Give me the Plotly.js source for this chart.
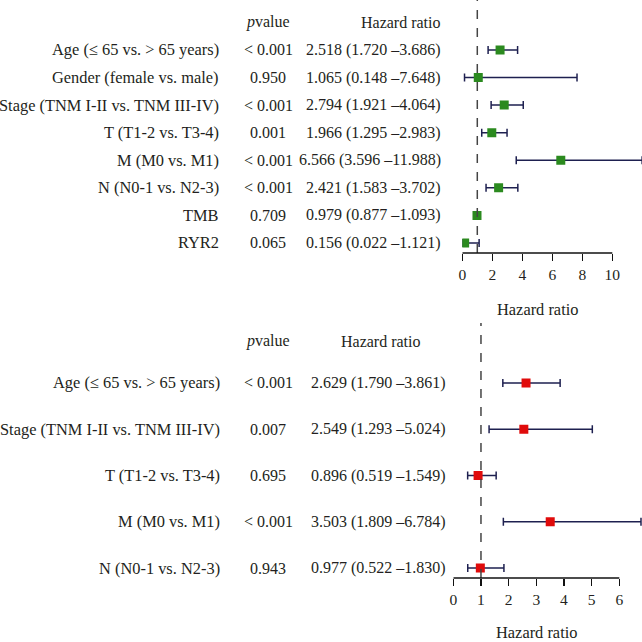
<!DOCTYPE html>
<html>
<head>
<meta charset="utf-8">
<script src="https://cdn.plot.ly/plotly-3.0.1.min.js"></script>
<style>html,body{margin:0;padding:0;background:#fff;}#chart{width:642px;height:642px;}</style>
</head>
<body>
<div id="chart"></div>
<script>
// ---- Top panel (univariate) ----
const topLabels = ["Age (≤ 65 vs. > 65 years)", "Gender (female vs. male)", "Stage (TNM I-II vs. TNM III-IV)", "T (T1-2 vs. T3-4)", "M (M0 vs. M1)", "N (N0-1 vs. N2-3)", "TMB", "RYR2"];
const topP = ["< 0.001", "0.950", "< 0.001", "0.001", "< 0.001", "< 0.001", "0.709", "0.065"];
const topHR = [2.518, 1.065, 2.794, 1.966, 6.566, 2.421, 0.979, 0.156];
const topLow = [1.720, 0.148, 1.921, 1.295, 3.596, 1.583, 0.877, 0.022];
const topHigh = [3.686, 7.648, 4.064, 2.983, 11.988, 3.702, 1.093, 1.121];
const topTicks = [0, 2, 4, 6, 8, 10];

// ---- Bottom panel (multivariate) ----
const botLabels = ["Age (≤ 65 vs. > 65 years)", "Stage (TNM I-II vs. TNM III-IV)", "T (T1-2 vs. T3-4)", "M (M0 vs. M1)", "N (N0-1 vs. N2-3)"];
const botP = ["< 0.001", "0.007", "0.695", "< 0.001", "0.943"];
const botHR = [2.629, 2.549, 0.896, 3.503, 0.977];
const botLow = [1.790, 1.293, 0.519, 1.809, 0.522];
const botHigh = [3.861, 5.024, 1.549, 6.784, 1.830];
const botTicks = [0, 1, 2, 3, 4, 5, 6];

const refValue = 1;

const FONT = "Liberation Serif, Times New Roman, serif";
const TXT = "#231f20";
const NAVY = "#1e2050";
const fmt = v => v.toFixed(3);
const hrText = (h, l, u) => `${fmt(h)} (${fmt(l)} –${fmt(u)})`;

function panelTrace(hr, lo, hi, color, xa, ya) {
  return {
    type: "scatter", mode: "markers", xaxis: xa, yaxis: ya,
    x: hr, y: hr.map((_, i) => i),
    marker: {symbol: "square", size: 9, color: color},
    error_x: {type: "data", symmetric: false,
      array: hi.map((h, i) => h - hr[i]), arrayminus: lo.map((l, i) => hr[i] - l),
      color: NAVY, thickness: 1.5, width: 4},
    cliponaxis: true, showlegend: false, hoverinfo: "skip"
  };
}

const data = [
  panelTrace(topHR, topLow, topHigh, "#2b8a1f", "x", "y"),
  panelTrace(botHR, botLow, botHigh, "#e00b0b", "x2", "y2")
];

const annotations = [];
function txt(text, xref, yref, x, y, xanchor, size) {
  return {text: text, xref: xref, yref: yref, x: x, y: y, xanchor: xanchor, yanchor: "middle", showarrow: false, font: {family: FONT, size: size || 16, color: TXT}};
}
function addColumns(labels, ps, hr, lo, hi, yref, labelX, pX, hrX, headY, hrHeadX) {
  labels.forEach((lab, i) => {
    annotations.push(txt(lab, "paper", yref, labelX, i, "right", 16.4));
    annotations.push(txt(ps[i], "paper", yref, pX, i, "center", 16));
    annotations.push(txt(hrText(hr[i], lo[i], hi[i]), "paper", yref, hrX, i, "right", 16));
  });
  annotations.push(txt("<i>p</i>value", "paper", yref, pX, headY, "center", 16));
  annotations.push(txt("Hazard ratio", "paper", yref, hrHeadX, headY, "center", 16));
}
addColumns(topLabels, topP, topHR, topLow, topHigh, "y", 221/642, 268/642, 443/642, -1.0, 401/642);
addColumns(botLabels, botP, botHR, botLow, botHigh, "y2", 222/642, 268/642, 448/642, -0.9, 381/642);

// axis titles centred under the tick span
annotations.push(txt("Hazard ratio", "x", "paper", (topTicks[0] + topTicks[topTicks.length - 1]) / 2, 1 - 310/642, "center", 16.4));
annotations.push(txt("Hazard ratio", "x2", "paper", (botTicks[0] + botTicks[botTicks.length - 1]) / 2, 1 - 632/642, "center", 16.4));

const shapes = [
  {type: "line", xref: "x", yref: "y domain", x0: refValue, x1: refValue, y0: 0, y1: 1, line: {color: "#444", width: 1.5, dash: "dash"}},
  {type: "line", xref: "x2", yref: "y2 domain", x0: refValue, x1: refValue, y0: 0, y1: 1, line: {color: "#444", width: 1.5, dash: "dash"}},
  {type: "line", xref: "x", yref: "y domain", x0: topTicks[0], x1: topTicks[topTicks.length - 1], y0: 0, y1: 0, line: {color: "#111", width: 1.3}},
  {type: "line", xref: "x2", yref: "y2 domain", x0: botTicks[0], x1: botTicks[botTicks.length - 1], y0: 0, y1: 0, line: {color: "#111", width: 1.3}}
];

const axisCommon = {showgrid: false, zeroline: false, showline: false, ticks: "outside", ticklen: 7, tickwidth: 1.3, tickcolor: "#111", tickfont: {family: FONT, size: 15.5, color: TXT}, fixedrange: true};

const layout = {
  width: 642, height: 642,
  margin: {l: 0, r: 0, t: 0, b: 0},
  paper_bgcolor: "#fff", plot_bgcolor: "rgba(0,0,0,0)",
  font: {family: FONT, color: TXT},
  xaxis: Object.assign({}, axisCommon, {domain: [462.3/642, 1], range: [0, 11.98], tickvals: topTicks, anchor: "y"}),
  yaxis: {domain: [1 - 253/642, 1], range: [7.363, -1.81], visible: false, fixedrange: true, anchor: "x"},
  xaxis2: Object.assign({}, axisCommon, {domain: [453.3/642, 1], range: [0, 6.82], tickvals: botTicks, anchor: "y2"}),
  yaxis2: {domain: [1 - 578/642, 1 - 323/642], range: [4.216, -1.297], visible: false, fixedrange: true, anchor: "x2"},
  annotations: annotations,
  shapes: shapes
};

Plotly.newPlot("chart", data, layout, {displayModeBar: false, staticPlot: true});
</script>
</body>
</html>
